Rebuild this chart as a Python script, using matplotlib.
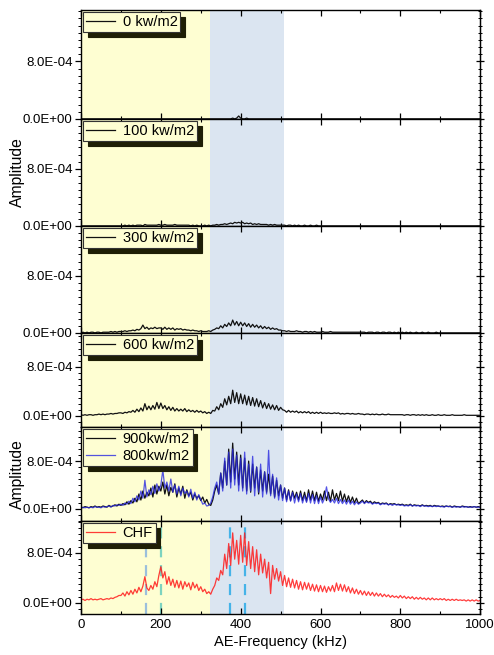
import numpy as np
import matplotlib
matplotlib.use("Agg")
import matplotlib.pyplot as plt
from matplotlib.ticker import FixedLocator, MultipleLocator, FuncFormatter

plt.rcParams['font.family'] = ['Liberation Sans', 'DejaVu Sans']

# frequency grid, kHz (5 kHz step)
freq = np.arange(0, 1001, 5)

# amplitudes, in units of 1e-5
amp_0 = [0]*20 + [0]*20 + [0]*20 + \
    [0, 0, 0, 0, 0, 0, 0, 0, 0, 0, 0, 0, 0, 0, 0, 0, 1, 0, 1, 4] + \
    [1, 0, 0, 1, 0, 0, 0, 0, 0, 0, 0, 0, 0, 0, 0, 0, 0, 0, 0, 0] + \
    [0, 0, 0, 0, 0, 0, 0, 0, 0, 0, 0, 0, 0, 0, 0, 0, 0, 0, 0, 0] + \
    [0]*20 + [0]*20 + [0]*20 + [0]*20 + [0]
amp_100 = [0, 0, 0, 0, 0, 0, 0, 0, 0, 0, 0, 0, 0, 0, 0, 0, 0, 0, 0, 0] + \
    [0, 0, 1, 0, 1, 0, 1, 0, 1, 1, 1, 0, 2, 1, 1, 1, 1, 1, 1, 2] + \
    [1, 1, 2, 1, 1, 1, 1, 2, 1, 1, 1, 1, 1, 1, 1, 0, 1, 0, 1, 0] + \
    [0, 0, 1, 0, 1, 0, 1, 1, 2, 1, 2, 2, 3, 2, 3, 4, 3, 5, 4, 5] + \
    [4, 5, 3, 4, 3, 4, 2, 3, 2, 3, 2, 2, 2, 2, 1, 2, 1, 2, 1, 1] + \
    [1, 1, 1, 0, 1, 1, 0, 1, 0, 1, 0, 0, 1, 0, 0, 1, 0, 0, 1, 0] + \
    [0]*20 + [0]*20 + [0]*20 + [0]*20 + [0]
amp_300 = [0, 1, 0, 1, 0, 1, 1, 0, 1, 1, 0, 1, 1, 1, 1, 2, 1, 2, 1, 2] + \
    [2, 2, 3, 2, 3, 3, 4, 3, 5, 4, 6, 11, 6, 8, 5, 7, 6, 8, 6, 7] + \
    [7, 5, 8, 5, 7, 5, 7, 4, 6, 5, 6, 4, 5, 4, 4, 3, 4, 3, 3, 2] + \
    [3, 2, 2, 2, 3, 2, 4, 5, 7, 6, 10, 7, 12, 9, 14, 10, 18, 11, 16, 10] + \
    [15, 10, 14, 9, 13, 8, 12, 8, 11, 7, 10, 6, 9, 6, 8, 5, 7, 5, 6, 4] + \
    [4, 3, 3, 2, 3, 2, 2, 2, 3, 2, 2, 1, 2, 2, 1, 2, 1, 2, 1, 1] + \
    [1, 2, 1, 1, 1, 2, 1, 1, 1, 1, 1, 1, 1, 1, 1, 1, 1, 1, 1, 1] + \
    [1, 1, 1, 0, 1, 1, 1, 0, 1, 1, 0, 1, 1, 0, 1, 1, 0, 1, 0, 1] + \
    [0, 1, 0, 1, 0, 1, 0, 0, 1, 0, 0, 1, 0, 0, 1, 0, 0, 0, 1, 0] + \
    [0]*20 + [0]
amp_600 = [2, 1, 2, 1, 2, 2, 1, 2, 2, 3, 2, 3, 2, 3, 3, 4, 3, 4, 4, 5] + \
    [5, 4, 6, 5, 7, 6, 9, 6, 11, 7, 13, 8, 20, 10, 16, 10, 17, 11, 22, 12] + \
    [21, 12, 17, 10, 15, 9, 14, 8, 12, 8, 11, 8, 12, 7, 10, 7, 9, 6, 9, 6] + \
    [8, 5, 7, 4, 6, 4, 9, 8, 15, 10, 20, 14, 28, 18, 32, 20, 42, 22, 38, 20] + \
    [36, 20, 34, 18, 32, 17, 30, 16, 28, 15, 25, 13, 22, 12, 20, 11, 18, 10, 17, 9] + \
    [14, 10, 9, 6, 9, 6, 8, 6, 8, 5, 7, 5, 7, 5, 7, 4, 6, 4, 6, 4] + \
    [6, 4, 5, 4, 5, 4, 4, 5, 4, 5, 3, 4, 3, 4, 4, 3, 4, 3, 3, 4] + \
    [3, 3, 2, 3, 3, 2, 3, 2, 3, 2, 2, 3, 2, 2, 3, 2, 2, 2, 2, 2] + \
    [2, 2, 1, 2, 2, 1, 2, 2, 1, 2, 1, 2, 1, 2, 1, 1, 2, 1, 1, 2] + \
    [1, 1, 2, 1, 1, 1, 2, 1, 1, 1, 1, 1, 2, 1, 1, 1, 1, 1, 1, 1] + [1]
amp_900 = [3, 2, 4, 3, 2, 4, 3, 5, 3, 4, 3, 5, 4, 3, 6, 4, 5, 7, 5, 8] + \
    [6, 9, 7, 12, 8, 14, 10, 18, 12, 25, 15, 30, 18, 28, 22, 35, 20, 40, 25, 38] + \
    [30, 45, 25, 40, 22, 36, 28, 42, 20, 35, 25, 38, 18, 32, 22, 28, 15, 25, 18, 22] + \
    [14, 20, 10, 16, 8, 6, 15, 30, 40, 25, 60, 35, 80, 40, 100, 45, 110, 50, 95, 40] + \
    [90, 35, 85, 30, 80, 28, 75, 35, 70, 25, 65, 30, 62, 28, 58, 25, 55, 20, 48, 22] + \
    [40, 18, 35, 15, 32, 14, 30, 18, 28, 15, 30, 14, 28, 13, 32, 15, 30, 14, 28, 13] + \
    [25, 15, 30, 14, 28, 13, 32, 15, 26, 14, 30, 13, 25, 12, 22, 11, 20, 10, 18, 9] + \
    [12, 15, 10, 14, 11, 13, 9, 12, 10, 11, 8, 10, 9, 10, 7, 9, 8, 9, 7, 8] + \
    [7, 8, 6, 7, 6, 8, 5, 7, 6, 6, 5, 7, 5, 6, 5, 6, 4, 6, 5, 5] + \
    [4, 5, 4, 5, 4, 5, 3, 5, 4, 4, 3, 5, 4, 4, 3, 4, 3, 4, 3, 4] + [3]
amp_800 = [2, 3, 2, 3, 2, 3, 2, 4, 3, 3, 2, 4, 3, 4, 5, 3, 6, 5, 7, 6] + \
    [8, 6, 10, 8, 13, 9, 18, 12, 22, 15, 30, 18, 48, 20, 32, 24, 38, 26, 42, 30] + \
    [40, 65, 35, 45, 30, 50, 28, 40, 25, 38, 22, 35, 26, 30, 20, 33, 18, 28, 15, 24] + \
    [16, 8, 10, 5, 6, 10, 20, 35, 45, 25, 60, 30, 85, 40, 95, 35, 100, 40, 90, 30] + \
    [85, 30, 95, 25, 75, 30, 88, 22, 70, 28, 75, 20, 62, 25, 98, 22, 58, 18, 52, 15] + \
    [40, 14, 35, 12, 30, 13, 28, 10, 25, 12, 26, 10, 22, 11, 26, 10, 24, 9, 22, 9] + \
    [20, 10, 18, 37, 17, 11, 16, 10, 18, 9, 16, 9, 15, 8, 15, 8, 13, 7, 12, 8] + \
    [10, 13, 9, 12, 10, 11, 8, 10, 9, 10, 7, 9, 8, 9, 7, 8, 6, 8, 7, 7] + \
    [6, 7, 5, 6, 5, 7, 5, 6, 5, 6, 4, 6, 5, 5, 4, 5, 4, 5, 4, 5] + \
    [4, 4, 3, 5, 4, 4, 3, 4, 3, 4, 3, 4, 3, 4, 3, 3, 3, 4, 3, 3] + [3]
amp_chf = [5, 6, 4, 6, 5, 7, 5, 6, 5, 6, 7, 5, 6, 7, 6, 8, 7, 9, 10, 12] + \
    [12, 16, 11, 18, 13, 20, 14, 22, 16, 25, 18, 27, 42, 24, 20, 28, 22, 34, 26, 44] + \
    [58, 40, 50, 30, 42, 28, 38, 25, 36, 24, 35, 22, 34, 26, 32, 21, 33, 24, 30, 20] + \
    [26, 18, 22, 15, 18, 14, 22, 28, 40, 36, 52, 45, 78, 55, 95, 60, 112, 70, 100, 62] + \
    [108, 65, 112, 60, 98, 55, 90, 50, 85, 45, 78, 48, 70, 40, 65, 15, 60, 38, 55, 35] + \
    [50, 28, 44, 26, 40, 25, 38, 24, 36, 22, 34, 21, 33, 22, 32, 20, 30, 19, 29, 18] + \
    [28, 18, 27, 17, 26, 19, 28, 18, 32, 20, 30, 19, 29, 18, 26, 16, 24, 15, 22, 14] + \
    [20, 13, 19, 12, 18, 12, 17, 11, 16, 11, 15, 10, 14, 10, 13, 9, 12, 9, 11, 8] + \
    [12, 8, 11, 7, 10, 7, 10, 6, 9, 6, 9, 6, 8, 5, 8, 5, 8, 5, 7, 5] + \
    [7, 5, 7, 4, 6, 4, 6, 4, 6, 4, 5, 4, 5, 3, 5, 3, 5, 3, 5, 3] + [4]

labels = ["0 kw/m2", "100 kw/m2", "300 kw/m2", "600 kw/m2", "900kw/m2", "CHF"]
chf_marks = [162, 201, 373, 411]

scale = 1e-5
yellow = '#fefed2'
bluebg = '#dbe5f1'

fig = plt.figure(figsize=(4.94, 6.55), dpi=100)
gs = fig.add_gridspec(6, 1, height_ratios=[109, 107, 107, 94, 94, 93], hspace=0,
                      left=0.164, right=0.972, top=0.985, bottom=0.0626)
axes = [fig.add_subplot(gs[i]) for i in range(6)]

ylims = [(0, 1.52e-3), (0, 1.5e-3), (0, 1.5e-3),
         (-1.8e-4, 1.355e-3), (-2e-4, 1.37e-3), (-1.76e-4, 1.31e-3)]

def sci(v, pos):
    return "%.1E" % v

for i, ax in enumerate(axes):
    ax.axvspan(0, 322, color=yellow, zorder=0, lw=0)
    ax.axvspan(322, 508, color=bluebg, zorder=0, lw=0)
    ax.set_xlim(0, 1000)
    ax.set_ylim(*ylims[i])
    ax.yaxis.set_major_locator(FixedLocator([0, 8e-4]))
    ax.yaxis.set_minor_locator(MultipleLocator(1e-4))
    ax.yaxis.set_major_formatter(FuncFormatter(sci))
    ax.xaxis.set_major_locator(MultipleLocator(200))
    ax.xaxis.set_minor_locator(MultipleLocator(100))
    ax.tick_params(axis='x', which='both', direction='in', top=True, bottom=True)
    ax.tick_params(axis='x', which='major', length=4, width=0.9)
    ax.tick_params(axis='x', which='minor', length=2.5, width=0.8)
    ax.tick_params(axis='y', which='both', direction='out', right=False)
    ax.tick_params(axis='y', which='major', length=4, width=0.9, labelsize=9.5, pad=2)
    ax.tick_params(axis='y', which='minor', length=2.5, width=0.7)
    ax.tick_params(axis='x', labelsize=9.5)
    sec = ax.secondary_yaxis('right')
    sec.yaxis.set_major_locator(FixedLocator([0, 8e-4]))
    sec.yaxis.set_minor_locator(MultipleLocator(1e-4))
    sec.tick_params(which='both', direction='inout', labelright=False)
    sec.tick_params(which='major', length=6, width=0.9)
    sec.tick_params(which='minor', length=3.5, width=0.7)
    for sp in ax.spines.values():
        sp.set_linewidth(1.0)
    if i < 5:
        ax.tick_params(axis='x', labelbottom=False)

leg_kw = dict(loc='upper left', fontsize=10.5, borderpad=0.2, handlelength=2.0,
              handletextpad=0.5, borderaxespad=0.15, fancybox=False,
              facecolor=yellow, edgecolor='#333333', framealpha=1,
              shadow={'ox': 3.5, 'oy': -3.5, 'color': '#1e1e05', 'alpha': 1},
              labelspacing=0.2)

series = [amp_0, amp_100, amp_300, amp_600]
for i in range(4):
    ax = axes[i]
    ax.plot(freq, np.array(series[i]) * scale, color='#111111', lw=0.9, label=labels[i])
    leg = ax.legend(**leg_kw)
    leg.get_frame().set_linewidth(0.8)

ax = axes[4]
ax.plot(freq, np.array(amp_900) * scale, color='#111111', lw=0.9, label="900kw/m2")
ax.plot(freq, np.array(amp_800) * scale, color='#2a2ae0', lw=0.9, alpha=0.8, label="800kw/m2")
leg = ax.legend(**leg_kw)
leg.get_frame().set_linewidth(0.8)

ax = axes[5]
ax.plot(freq, np.array(amp_chf) * scale, color='#ff1a1a', lw=0.9, alpha=0.85, label="CHF")
leg = ax.legend(**leg_kw)
leg.get_frame().set_linewidth(0.8)
ax.axvline(chf_marks[0], ymin=0, ymax=0.72, color='#9bbfdc', ls=(0, (5, 3.5)), lw=1.6, zorder=1)
ax.axvline(chf_marks[1], color='#7dd3bf', ls=(0, (5, 3.5)), lw=1.6, zorder=1)
ax.axvline(chf_marks[2], color='#45b3e8', ls=(0, (5, 3.5)), lw=1.6, zorder=1)
ax.axvline(chf_marks[3], color='#45b3e8', ls=(0, (5, 3.5)), lw=1.6, zorder=1)
ax.set_xlabel("AE-Frequency (kHz)", fontsize=10.5, labelpad=3)

axes[1].set_ylabel("Amplitude", fontsize=11.3)
axes[4].set_ylabel("Amplitude", fontsize=11.3)
for ax in (axes[1], axes[4]):
    ax.yaxis.set_label_coords(-0.14, 0.5)

fig.savefig("out.png", dpi=100)
